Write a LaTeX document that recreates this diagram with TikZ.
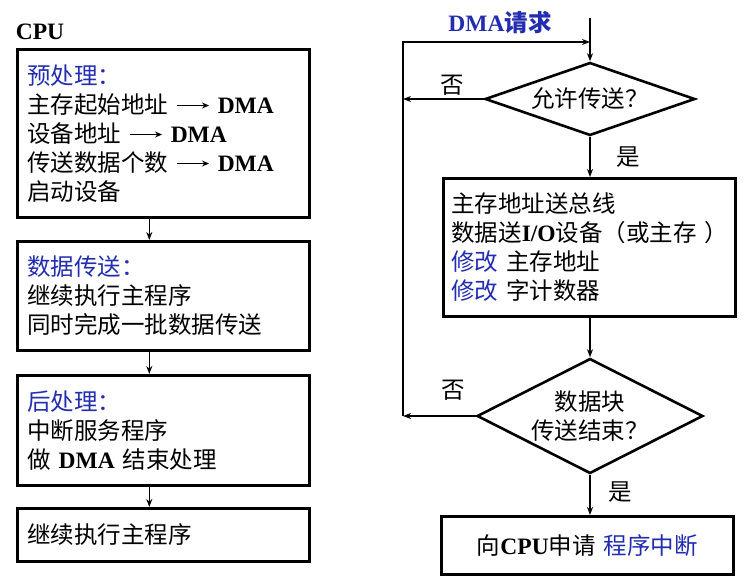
\documentclass[tikz,border=0pt]{standalone}
\usepackage{fontspec}
\usepackage{tikz}
\usetikzlibrary{shapes.geometric,arrows.meta}
\setmainfont{Noto Sans CJK SC}
\newfontfamily\latinfont{Liberation Serif}
\definecolor{hblue}{RGB}{35,45,175}
\newcommand{\lat}[1]{{\latinfont\bfseries #1}}
\newcommand{\toDMA}{\ \tikz[baseline=-0.6ex]\draw[-{Stealth[length=7pt,width=6pt]},line width=1.8pt] (0pt,0pt) -- (32pt,0pt);\ \lat{DMA}}
\begin{document}
\begin{tikzpicture}[x=1pt,y=-1pt]%
  \tikzstyle{every node}=[font=\fontsize{23.5}{29}\selectfont]
  \tikzstyle{stepbox}=[rectangle,draw,line width=2.6pt,anchor=north west,align=left,inner xsep=10pt,inner ysep=0pt,text width=272pt]
  \tikzstyle{decide}=[diamond,draw,line width=2.6pt,inner sep=0pt,align=center]
  \tikzstyle{flow}=[-{Stealth[length=8pt,width=6pt]},line width=1.6pt]
  \useasboundingbox (0,0) rectangle (751,581);
  % CPU side
  \node (cpu) at (40,32) {\lat{CPU}};
  \node(pre)[stepbox,minimum height=168pt] at (16,48)
    {\textcolor{hblue}{预处理：}\\主存起始地址\toDMA\\设备地址\toDMA\\传送数据个数\toDMA\\启动设备};
  \node(xfer)[stepbox,minimum height=109pt] at (16,240)
    {\textcolor{hblue}{数据传送：}\\继续执行主程序\\同时完成一批数据传送};
  \node(post)[stepbox,minimum height=110pt] at (16,374)
    {\textcolor{hblue}{后处理：}\\中断服务程序\\做 \lat{DMA} 结束处理};
  \node(cont)[stepbox,minimum height=53pt] at (16,507) {继续执行主程序};
  \draw[flow] ([xshift=-14pt]pre.south) -- ([xshift=-14pt]xfer.north);
  \draw[flow] ([xshift=-14pt]xfer.south) -- ([xshift=-14pt]post.north);
  \draw[flow] ([xshift=-14pt]post.south) -- ([xshift=-14pt]cont.north);
  % DMA side
  \node(reqlabel)[text=hblue] at (500,23) {\lat{DMA}\textbf{请求}};
  \node(ask)[decide,aspect=2.9,minimum width=210pt,minimum height=73pt] at (590,99) {允许传送？};
  \node(work)[stepbox,inner xsep=8pt,text width=276pt,minimum height=138pt] at (442,177)
    {主存地址送总线\\\mbox{数据送\lat{I/O}设备（或主存 ）}\\\textcolor{hblue}{修改} 主存地址\\\textcolor{hblue}{修改} 字计数器};
  \node(done)[decide,aspect=2,minimum width=226pt,minimum height=115pt] at (590,416) {数据块\\传送结束？};
  \node(irq)[stepbox,align=center,minimum height=58pt] at (440,515) {向\lat{CPU}申请 \textcolor{hblue}{程序中断}};
  \node(no1) at (452,85) {否};
  \node(yes1) at (628,157) {是};
  \node(no2) at (453,390) {否};
  \node(yes2) at (620,492) {是};
  \coordinate (req) at (590,18);
  \coordinate (loop) at (403,42);
  \draw[flow] (req) -- (ask.north);
  \draw[flow] (ask.west) -- (ask.west -| loop);
  \draw[flow] (ask.south) -- (ask.south |- work.north);
  \draw[flow] (work.south -| ask.south) -- (done.north);
  \draw[flow] (done.west) -- (done.west -| loop);
  \draw[flow] (done.west -| loop) -- (loop) -- (loop -| req);
  \draw[flow] (done.south) -- (done.south |- irq.north);
\end{tikzpicture}
\end{document}
